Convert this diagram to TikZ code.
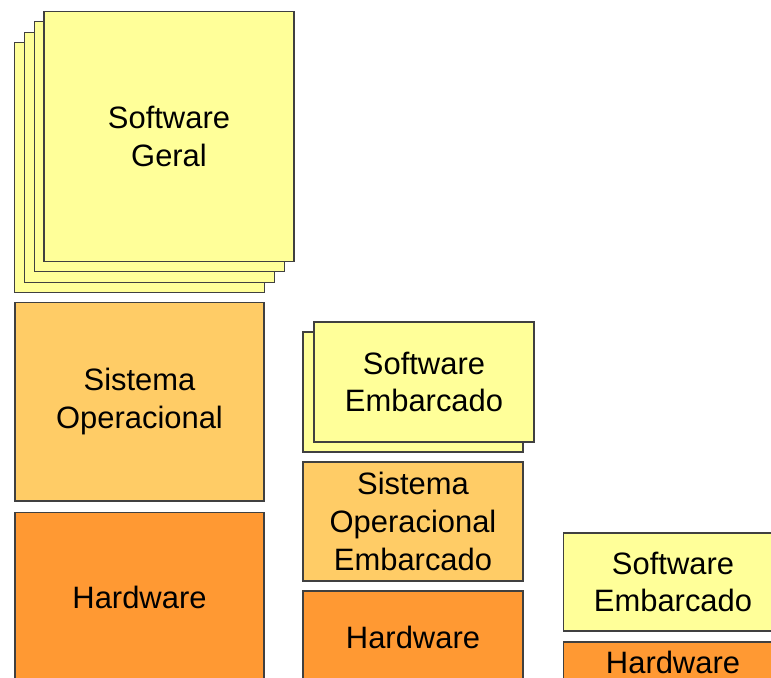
\documentclass[tikz,border=0pt]{standalone}
\usepackage{fontspec}
\setmainfont{Liberation Sans}
\usetikzlibrary{positioning}

\definecolor{swcor}{RGB}{255,255,153}
\definecolor{socor}{RGB}{255,204,102}
\definecolor{hwcor}{RGB}{255,153,51}

\tikzset{
  camada/.style={draw=black!75, line width=0.6pt, inner sep=0pt, align=center,
                 font=\fontsize{17.6}{21.5}\selectfont},
  sw/.style={camada, fill=swcor},
  so/.style={camada, fill=socor},
  hw/.style={camada, fill=hwcor}
}

\begin{document}
\begin{tikzpicture}[x=0.02cm, y=-0.02cm]
\useasboundingbox (0,0) rectangle (771,677);
\clip (0,0) rectangle (771,677);
\def\xs{9.7} %shift of the stacked copies in x
\def\ys{10.3} %shift of the stacked copies in y
\def\nc{3} % number of copies behind the general software

% general computer: stack of applications
\foreach \i in {\nc,...,1}
{
\node [sw, minimum width=5cm, minimum height=5cm] (sg\i) at (169-\i*\xs, 136.5+\i*\ys) {};
}
\node [sw, minimum width=5cm, minimum height=5cm] (sg) at (169,136.5) {Software\\Geral};
\node [so, minimum width=4.98cm, minimum height=3.98cm] (so1) at (139.5,401.5) {Sistema\\Operacional};
\node [hw, minimum width=4.98cm, minimum height=3.4cm] (hw1) at (139.5,597) {Hardware};

% embedded system with an operating system
\node [sw, minimum width=4.4cm, minimum height=2.4cm] (se2b) at (413,392) {};
\node [sw, minimum width=4.4cm, minimum height=2.4cm] (se2) at (424,382) {Software\\Embarcado};
\node [so, minimum width=4.4cm, minimum height=2.38cm] (so2) at (413,521.5) {Sistema\\Operacional\\Embarcado};
\node [hw, minimum width=4.4cm, minimum height=1.84cm] (hw2) at (413,637) {Hardware};

% embedded system without an operating system
\node [sw, minimum width=4.4cm, minimum height=1.96cm] (se3) at (673,582) {Software\\Embarcado};
\node [hw, minimum width=4.4cm, minimum height=0.8cm] (hw3) at (673,662) {Hardware};
\end{tikzpicture}
\end{document}
